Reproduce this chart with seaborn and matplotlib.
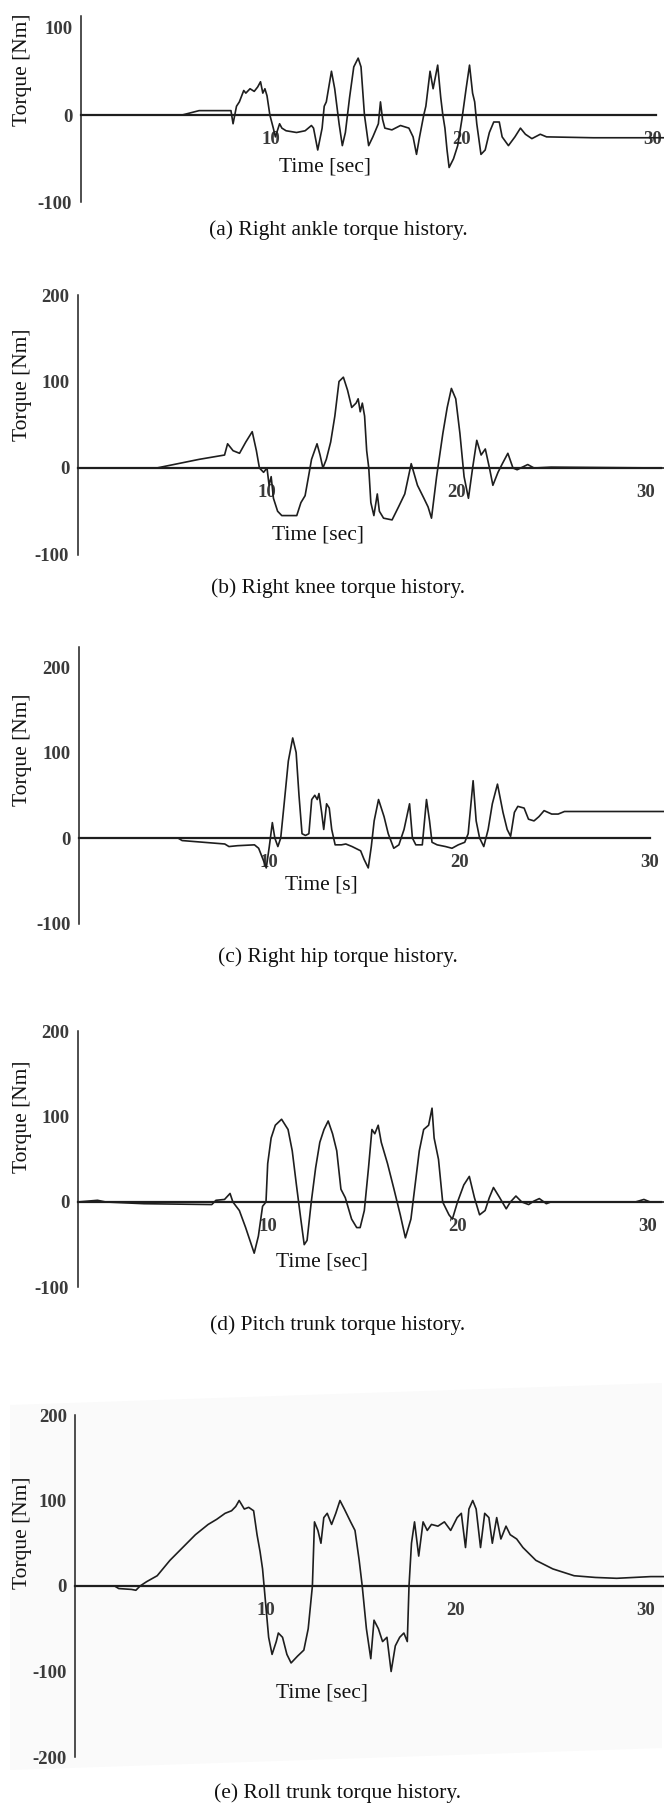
import matplotlib
matplotlib.use("Agg")
import matplotlib.pyplot as plt
import seaborn as sns
import pandas as pd
from matplotlib.patches import Polygon

# ---- data (time [s], torque [Nm]) ----
ankle_t = [0, 5.33, 6.22, 7.89, 8.0, 8.18, 8.33, 8.56, 8.67, 8.89, 9.11, 9.29, 9.44, 9.56, 9.67, 9.78,
           9.93, 10.11, 10.22, 10.44, 10.56, 10.78, 11.33, 11.78, 12.11, 12.22, 12.44, 12.67, 12.78,
           12.89, 13.16, 13.33, 13.56, 13.73, 13.89, 14.11, 14.33, 14.56, 14.71, 14.89, 15.11, 15.33,
           15.62, 15.73, 15.84, 15.96, 16.33, 16.78, 17.22, 17.44, 17.62, 17.78, 18.0, 18.11, 18.33,
           18.49, 18.73, 18.89, 19.0, 19.11, 19.22, 19.33, 19.56, 19.78, 20.0, 20.22, 20.4, 20.56,
           20.67, 20.78, 21.0, 21.22, 21.44, 21.67, 21.96, 22.11, 22.44, 22.78, 23.07, 23.33, 23.67,
           24.11, 24.44, 26.89, 30.6]
ankle_v = [0, 0, 5, 5, -10, 10, 15, 28, 25, 30, 27, 32, 38, 25, 30, 22,
           0, -15, -25, -10, -15, -18, -20, -18, -12, -15, -40, -15, 10,
           15, 50, 30, -10, -35, -20, 20, 55, 65, 55, 0, -35, -25,
           -10, 15, -5, -15, -17, -12, -15, -25, -45, -25, 0, 10, 50,
           30, 57, 20, 0, -15, -40, -60, -50, -35, -5, 30, 57, 25,
           15, -10, -45, -40, -20, -8, -8, -25, -35, -25, -15, -22, -27,
           -22, -25, -26, -26]

knee_t = [0, 4.18, 4.85, 6.42, 7.76, 7.92, 8.21, 8.55, 8.88, 9.22, 9.44, 9.6, 9.82, 10.0, 10.11,
          10.22, 10.34, 10.56, 10.78, 11.57, 11.79, 12.01, 12.19, 12.35, 12.64, 12.8, 12.95, 13.13,
          13.36, 13.58, 13.8, 14.03, 14.25, 14.47, 14.7, 14.81, 14.92, 15.03, 15.15, 15.26, 15.37,
          15.48, 15.64, 15.82, 15.93, 16.15, 16.6, 16.94, 17.27, 17.61, 17.94, 18.28, 18.5, 18.68,
          18.95, 19.28, 19.51, 19.73, 19.96, 20.18, 20.4, 20.63, 20.85, 21.07, 21.3, 21.52, 21.74,
          21.92, 22.19, 22.42, 22.71, 22.98, 23.2, 23.76, 24.09, 24.99, 30.95]
knee_v = [0, 0, 3, 10, 15, 28, 20, 17, 30, 42, 20, 0, -5, 0, -20,
          -10, -35, -50, -55, -55, -40, -32, -10, 10, 28, 15, 0, 10,
          30, 60, 100, 105, 90, 70, 75, 80, 65, 75, 60, 20, 0,
          -40, -55, -30, -50, -58, -60, -45, -30, 5, -20, -35, -45, -58,
          -10, 40, 70, 92, 80, 40, -10, -35, 0, 32, 15, 22, 0,
          -20, -5, 5, 17, 0, -2, 4, 0, 1, 0]

hip_t = [0, 5.2, 5.42, 6.54, 7.66, 7.88, 8.33, 9.22, 9.44, 9.67, 9.84, 10.0, 10.16, 10.29, 10.45,
         10.6, 10.78, 11.0, 11.23, 11.41, 11.56, 11.72, 11.9, 12.08, 12.23, 12.39, 12.52, 12.61,
         12.75, 12.86, 13.01, 13.15, 13.28, 13.46, 13.79, 14.02, 14.35, 14.8, 14.98, 15.2, 15.36,
         15.51, 15.74, 16.03, 16.25, 16.54, 16.81, 17.08, 17.37, 17.52, 17.7, 18.04, 18.26, 18.42,
         18.55, 18.82, 19.26, 19.6, 19.93, 20.27, 20.45, 20.71, 20.87, 21.05, 21.27, 21.5, 21.72,
         21.99, 22.28, 22.5, 22.68, 22.88, 23.06, 23.39, 23.62, 23.91, 24.17, 24.44, 24.84, 25.18,
         25.51, 28.19, 30.75]
hip_v = [0, 0, -3, -5, -7, -10, -9, -8, -12, -25, -35, -10, 18, 0, -10,
         0, 40, 90, 117, 100, 50, 5, 3, 5, 45, 50, 45, 52,
         30, 10, 40, 35, 10, -8, -8, -7, -10, -15, -25, -35, -10,
         20, 45, 25, 5, -12, -8, 10, 40, 0, -8, -8, 45, 20,
         -5, -8, -10, -12, -8, -5, 5, 67, 20, 0, -10, 10, 40,
         63, 30, 10, 2, 30, 37, 35, 22, 20, 25, 32, 28, 28,
         31, 31, 31]

pitch_t = [0, 1.05, 1.49, 3.5, 7.06, 7.28, 7.73, 8.02, 8.17, 8.51, 8.84, 9.29, 9.51, 9.73, 9.91,
           10.0, 10.18, 10.4, 10.73, 11.07, 11.29, 11.51, 11.74, 11.92, 12.07, 12.29, 12.52, 12.74,
           12.96, 13.18, 13.41, 13.63, 13.85, 14.08, 14.41, 14.68, 14.86, 15.08, 15.3, 15.48, 15.63,
           15.81, 15.97, 16.3, 16.64, 16.97, 17.24, 17.53, 17.75, 17.97, 18.2, 18.46, 18.64, 18.75,
           18.98, 19.2, 19.53, 19.71, 19.98, 20.31, 20.6, 20.87, 21.14, 21.43, 21.65, 21.87, 22.2,
           22.54, 22.76, 23.05, 23.36, 23.72, 23.99, 24.28, 24.65, 24.88, 29.33, 29.78, 30.11, 30.85]
pitch_v = [0, 2, 0, -2, -3, 2, 3, 10, 0, -10, -30, -60, -40, -5, 0,
           45, 75, 90, 97, 85, 60, 20, -20, -50, -45, 0, 40, 70,
           85, 95, 80, 60, 15, 5, -20, -30, -30, -10, 40, 85, 80,
           90, 70, 45, 15, -15, -42, -20, 20, 60, 85, 90, 110, 75,
           50, 0, -15, -20, 0, 20, 30, 5, -15, -10, 5, 17, 5,
           -8, 0, 7, 0, -3, 1, 4, -2, 0, 0, 3, 0, 0]

roll_t = [0, 2.06, 2.28, 2.95, 3.18, 3.4, 3.74, 4.3, 4.97, 5.64, 6.31, 6.98, 7.43, 7.87, 8.21,
          8.43, 8.61, 8.88, 9.11, 9.37, 9.55, 9.71, 9.84, 10.0, 10.16, 10.34, 10.56, 10.67, 10.89,
          11.12, 11.34, 11.68, 12.01, 12.24, 12.46, 12.57, 12.75, 12.91, 13.06, 13.24, 13.47, 13.69,
          13.91, 14.14, 14.47, 14.7, 14.92, 15.08, 15.3, 15.53, 15.7, 15.93, 16.15, 16.38, 16.6,
          16.82, 17.05, 17.27, 17.45, 17.54, 17.67, 17.83, 18.05, 18.28, 18.5, 18.72, 19.06, 19.4,
          19.73, 20.07, 20.29, 20.51, 20.69, 20.89, 21.07, 21.3, 21.52, 21.74, 21.92, 22.15, 22.37,
          22.64, 22.86, 23.2, 23.53, 24.21, 25.1, 26.22, 27.34, 28.46, 30.25, 30.95]
roll_v = [0, 0, -3, -4, -5, 0, 5, 12, 30, 45, 60, 72, 78, 85, 88,
          93, 100, 90, 92, 88, 60, 40, 20, -20, -60, -80, -65, -55, -60,
          -80, -90, -82, -75, -50, 0, 75, 65, 50, 80, 85, 72, 85,
          100, 90, 75, 65, 30, 0, -50, -85, -40, -50, -65, -60, -100,
          -70, -60, -55, -65, 0, 50, 75, 35, 75, 65, 72, 70, 75,
          65, 80, 85, 45, 90, 100, 90, 45, 85, 80, 50, 80, 55,
          70, 60, 55, 45, 30, 20, 12, 10, 9, 11, 11]

series = [(ankle_t, ankle_v), (knee_t, knee_v), (hip_t, hip_v), (pitch_t, pitch_v), (roll_t, roll_v)]
captions = ["(a) Right ankle torque history.", "(b) Right knee torque history.",
            "(c) Right hip torque history.", "(d) Pitch trunk torque history.",
            "(e) Roll trunk torque history."]
time_labels = ["Time [sec]", "Time [sec]", "Time [s]", "Time [sec]", "Time [sec]"]
y_ticks = [[-100, 0, 100], [-100, 0, 100, 200], [-100, 0, 100, 200],
           [-100, 0, 100, 200], [-200, -100, 0, 100, 200]]
x_ticks = [10, 20, 30]

# ---- page geometry (pixels of the 664x1804 page) ----
W, H = 664, 1804
# axis x, px per second, y of zero, px per 100 Nm, y top, y bottom, end of zero line [s]
geom = [(80.5, 19.07, 115, 87.5, 113, -100, 30.2),
        (77.5, 18.95, 468, 86.5, 200, -100, 30.8),
        (79.0, 19.03, 838, 85.5, 223, -100, 30.0),
        (77.5, 19.02, 1202, 85.3, 200, -100, 30.7),
        (75.4, 19.02, 1586, 85.5, 200, -200, 30.9)]
time_pos = [(325, 167), (318, 535), (321, 885), (322, 1262), (322, 1693)]
torque_y = [70, 385, 750, 1117, 1533]
caption_y = [230, 588, 957, 1325, 1793]

sns.set_style("white")
plt.rcParams['font.family'] = ['Liberation Serif', 'DejaVu Serif']

fig = plt.figure(figsize=(W / 100, H / 100), dpi=100)
fig.patch.set_facecolor('white')
# faint, slightly tilted grey of the scanned page behind the last plot
page = [(10, 1405), (662, 1383), (662, 1748), (10, 1770)]
fig.patches.append(Polygon([(x / W, 1 - y / H) for x, y in page], closed=True,
                           transform=fig.transFigure, facecolor='#fafafa',
                           edgecolor='none', zorder=-5))

ink = '#1e1e1e'
for i, (t, v) in enumerate(series):
    ax_x, pps, y0, pp100, ytop, ybot, xend = geom[i]
    top_px = y0 - ytop * pp100 / 100
    bot_px = y0 - ybot * pp100 / 100
    ax = fig.add_axes([ax_x / W, 1 - bot_px / H, (W - ax_x) / W, (bot_px - top_px) / H])
    ax.set_facecolor('none')
    ax.set_zorder(2)

    df = pd.DataFrame({'t': t, 'v': v})
    sns.lineplot(data=df, x='t', y='v', ax=ax, color=ink, lw=1.2, sort=False, estimator=None)

    ax.set_xlim(0, (W - ax_x) / pps)
    ax.set_ylim(ybot, ytop)
    ax.set_xlabel("")
    ax.set_ylabel("")

    for s in ['top', 'right']:
        ax.spines[s].set_visible(False)
    ax.spines['bottom'].set_position(('data', 0))
    ax.spines['bottom'].set_bounds(0, xend)
    ax.spines['bottom'].set_linewidth(1.6)
    ax.spines['bottom'].set_color(ink)
    ax.spines['left'].set_bounds(ybot, ytop)
    ax.spines['left'].set_linewidth(1.1)
    ax.spines['left'].set_color(ink)

    ax.set_xticks(x_ticks)
    ax.set_xticklabels([str(x) for x in x_ticks])
    ax.set_yticks(y_ticks[i])
    ax.set_yticklabels([str(y) for y in y_ticks[i]])
    ax.tick_params(axis='x', direction='inout', length=7, width=1, pad=8,
                   labelsize=13.5, colors=ink, labelcolor='#3a3a3a')
    ax.tick_params(axis='y', direction='inout', length=8, width=1.2, pad=2,
                   labelsize=13.5, colors=ink, labelcolor='#3a3a3a')
    for lab in ax.get_xticklabels() + ax.get_yticklabels():
        lab.set_fontweight('bold')

    fig.text(time_pos[i][0] / W, 1 - time_pos[i][1] / H, time_labels[i],
             ha='center', va='center', fontsize=15.5, color='#111111')
    fig.text(23 / W, 1 - torque_y[i] / H, "Torque [Nm]", rotation=90,
             ha='center', va='center', fontsize=15.5, color='#111111')
    fig.text(338 / W, 1 - caption_y[i] / H, captions[i],
             ha='center', va='center', fontsize=15.5, color='#111111')

fig.savefig("out.png", dpi=100)
